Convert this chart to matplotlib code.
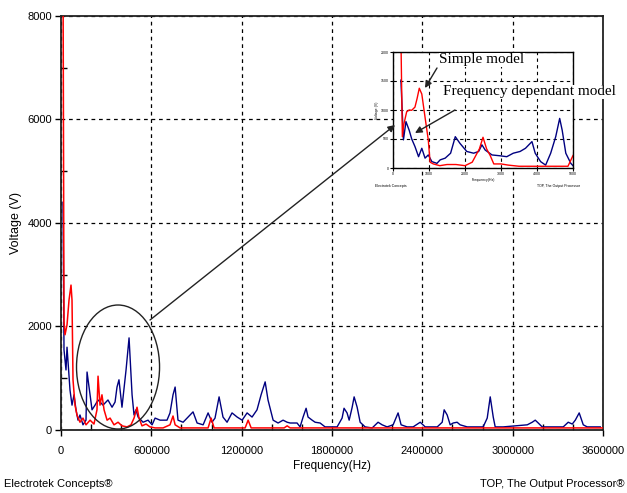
import matplotlib
matplotlib.use('Agg')
import matplotlib.pyplot as plt
from matplotlib.patches import Ellipse
from matplotlib.ticker import MultipleLocator, FixedLocator

plt.rcParams['font.family'] = ['Liberation Sans', 'DejaVu Sans']

# ==========================================
# DATA
# ==========================================
# frequency dependant model (blue), Hz / V
blue_f = [13300, 19900, 33200, 39900, 59800, 73100, 86400, 99700, 113000, 126000,
          146000, 166000, 173000, 193000, 206000, 226000, 246000, 279000, 312000, 339000,
          359000, 372000, 385000, 405000, 432000, 452000, 472000, 485000, 498000, 512000,
          545000, 578000, 605000, 625000, 658000, 704000, 724000, 744000, 758000, 777000,
          811000, 844000, 877000, 904000, 944000, 977000, 1003000, 1023000, 1050000, 1076000,
          1103000, 1136000, 1170000, 1203000, 1236000, 1269000, 1302000, 1329000, 1356000, 1375000,
          1409000, 1442000, 1475000, 1502000, 1522000, 1568000, 1588000, 1608000, 1628000, 1641000,
          1668000, 1688000, 1721000, 1754000, 1834000, 1867000, 1880000, 1900000, 1914000, 1934000,
          1947000, 1967000, 1987000, 2020000, 2067000, 2106000, 2133000, 2166000, 2206000, 2239000,
          2259000, 2299000, 2339000, 2386000, 2419000, 2499000, 2532000, 2545000, 2565000, 2585000,
          2605000, 2631000, 2651000, 2698000, 2804000, 2831000, 2851000, 2871000, 2884000, 2937000,
          3097000, 3130000, 3150000, 3170000, 3196000, 3336000, 3369000, 3396000, 3416000, 3442000,
          3469000, 3495000, 3582000]
blue_v = [4400, 1550, 1160, 1600, 770, 480, 680, 390, 190, 290,
          100, 190, 1120, 680, 390, 480, 580, 480, 580, 440,
          540, 830, 970, 440, 1160, 1780, 680, 290, 390, 250,
          150, 190, 100, 230, 190, 190, 330, 680, 830, 190,
          150, 250, 350, 135, 100, 330, 150, 230, 640, 250,
          150, 330, 250, 190, 330, 250, 390, 680, 930, 580,
          190, 135, 190, 150, 135, 135, 60, 250, 420, 250,
          190, 150, 135, 60, 60, 230, 420, 330, 190, 440,
          640, 440, 150, 60, 40, 150, 100, 60, 100, 330,
          100, 60, 60, 150, 60, 60, 150, 390, 290, 100,
          135, 150, 100, 60, 60, 230, 640, 250, 60, 60,
          100, 150, 190, 135, 60, 60, 150, 115, 190, 330,
          100, 60, 60]

# simple model (red), Hz / V
red_f = [13300, 19900, 26600, 39900, 53200, 66400, 73100, 79700, 93000, 106000,
         126000, 146000, 166000, 193000, 219000, 239000, 246000, 259000, 272000, 286000,
         306000, 326000, 352000, 379000, 405000, 439000, 465000, 485000, 505000, 518000,
         538000, 565000, 591000, 625000, 678000, 724000, 744000, 758000, 791000, 977000,
         997000, 1017000, 1223000, 1243000, 1263000, 1482000, 1502000, 1522000, 3600000]
red_v = [9000, 2100, 1840, 2030, 2510, 2800, 2510, 970, 480, 290,
         150, 230, 100, 190, 115, 390, 1040, 480, 680, 390,
         190, 230, 100, 150, 80, 60, 100, 230, 440, 230,
         80, 115, 60, 40, 40, 100, 270, 100, 40, 40,
         230, 40, 40, 190, 40, 40, 80, 40, 40]

x_ticks = [0, 600000, 1200000, 1800000, 2400000, 3000000, 3600000]
y_ticks = [0, 2000, 4000, 6000, 8000]

# inset (zoomed copy of the low-frequency part), arbitrary units
ins_red_x = [0.22, 0.26, 0.30, 0.38, 0.45, 0.52, 0.61, 0.67, 0.73, 0.80, 0.89, 0.98,
             1.03, 1.12, 1.30, 1.50, 1.75, 2.00, 2.20, 2.40, 2.50, 2.60, 2.70, 2.80,
             3.00, 3.20, 3.50, 3.80, 4.30, 4.70, 4.86, 5.00]
ins_red_y = [4.5, 1.08, 1.5, 1.94, 2.0, 1.99, 2.1, 2.4, 2.75, 2.55, 1.75, 0.97,
             0.2, 0.14, 0.08, 0.12, 0.12, 0.08, 0.2, 0.66, 1.06, 0.66, 0.43, 0.14,
             0.14, 0.1, 0.06, 0.06, 0.06, 0.06, 0.06, 0.43]
ins_blue_x = [0.22, 0.29, 0.36, 0.45, 0.52, 0.61, 0.71, 0.80, 0.89, 0.98, 1.08, 1.22,
              1.31, 1.45, 1.60, 1.73, 1.86, 2.05, 2.24, 2.38, 2.47, 2.56, 2.75, 2.98,
              3.16, 3.34, 3.53, 3.68, 3.86, 3.95, 4.10, 4.24, 4.38, 4.52, 4.63, 4.70,
              4.80, 4.94, 5.00]
ins_blue_y = [3.03, 0.97, 1.6, 1.3, 1.0, 0.74, 0.39, 0.68, 0.34, 0.45, 0.22, 0.16,
              0.28, 0.34, 0.51, 1.08, 0.85, 0.57, 0.51, 0.57, 0.8, 0.62, 0.45, 0.42,
              0.39, 0.51, 0.57, 0.68, 0.91, 0.51, 0.22, 0.1, 0.51, 1.08, 1.71, 1.3,
              0.51, 0.16, 0.08]
ins_x_labels = ['0', '1000', '2000', '3000', '4000', '5000']
ins_y_labels = ['0', '500', '1000', '1500', '2000']

# ==========================================
# MAIN PLOT
# ==========================================
fig = plt.figure(figsize=(6.27, 4.93), dpi=100)
ax = fig.add_axes([0.0973, 0.1278, 0.8644, 0.8398])

ax.plot(blue_f, blue_v, color='#000080', lw=1.0, zorder=3)
ax.plot(red_f, red_v, color='#ff0000', lw=1.1, zorder=4)

ax.set_xlim(0, 3600000)
ax.set_ylim(0, 8000)
ax.xaxis.set_major_locator(FixedLocator(x_ticks))
ax.yaxis.set_major_locator(FixedLocator(y_ticks))
ax.xaxis.set_minor_locator(MultipleLocator(200000))
ax.yaxis.set_minor_locator(MultipleLocator(1000))
ax.set_xticklabels([str(t) for t in x_ticks])
ax.set_yticklabels([str(t) for t in y_ticks])
ax.tick_params(which='major', direction='out', length=4.5, width=1, labelsize=8)
ax.tick_params(axis='x', which='major', pad=7)
ax.tick_params(axis='y', which='major', pad=2)
ax.tick_params(which='minor', direction='in', length=4, width=1)
ax.grid(True, which='major', color='black', linestyle=(0, (3, 3)), lw=0.9)
for s in ax.spines.values():
    s.set_linewidth(1.3)
    s.set_color('#222222')

ax.set_xlabel('Frequency(Hz)', fontsize=8.5, labelpad=3)
ax.set_ylabel('Voltage (V)', fontsize=9, labelpad=4)

# circle around the low-frequency region
ax.add_patch(Ellipse((378800, 1217), 551500, 2396, fill=False, ec='#222222', lw=1.0, zorder=5))

fig.text(4 / 627, 1 - 484 / 493, 'Electrotek Concepts®', fontsize=8, ha='left', va='center')
fig.text(625 / 627, 1 - 484 / 493, 'TOP, The Output Processor®', fontsize=8, ha='right', va='center')

# ==========================================
# INSET
# ==========================================
ins = fig.add_axes([393 / 627, 1 - 168 / 493, 180 / 627, 116 / 493])
ins.plot(ins_blue_x, ins_blue_y, color='#000080', lw=1.0)
ins.plot(ins_red_x, ins_red_y, color='#ff0000', lw=1.0)
ins.set_xlim(0, 5)
ins.set_ylim(0, 4)
ins.set_xticks(range(6))
ins.set_yticks(range(5))
ins.set_xticklabels(ins_x_labels)
ins.set_yticklabels(ins_y_labels)
ins.tick_params(direction='out', length=2, width=0.8, labelsize=2.5, pad=1)
ins.grid(True, color='black', linestyle=(0, (3, 3)), lw=0.8)
for s in ins.spines.values():
    s.set_linewidth(1.0)
ins.set_xlabel('Frequency(Hz)', fontsize=2.5, labelpad=1)
ins.set_ylabel('Voltage (V)', fontsize=2.5, labelpad=1)
fig.text(375 / 627, 1 - 186 / 493, 'Electrotek Concepts', fontsize=2.5, ha='left', va='center')
fig.text(580 / 627, 1 - 186 / 493, 'TOP, The Output Processor', fontsize=2.5, ha='right', va='center')

# annotations
serif = ['Liberation Serif', 'DejaVu Serif']
fig.text(482 / 627, 1 - 60 / 493, 'Simple model', family=serif, fontsize=11,
         ha='center', va='center', bbox=dict(fc='white', ec='none', pad=0.5), zorder=10)
fig.text(443 / 627, 1 - 92 / 493, 'Frequency dependant model', family=serif, fontsize=11,
         ha='left', va='center', bbox=dict(fc='white', ec='none', pad=0.5), zorder=10)

arrow = dict(arrowstyle='-|>', color='#222222', lw=1.0, mutation_scale=10, shrinkA=0, shrinkB=0)
ins.annotate('', xy=(425, 493 - 88), xycoords='figure pixels',
             xytext=(437, 493 - 68), textcoords='figure pixels', arrowprops=arrow)
ins.annotate('', xy=(415, 493 - 133), xycoords='figure pixels',
             xytext=(455, 493 - 110), textcoords='figure pixels', arrowprops=arrow)
ins.annotate('', xy=(395, 493 - 125), xycoords='figure pixels',
             xytext=(150, 493 - 320), textcoords='figure pixels', arrowprops=arrow)

plt.savefig('out.png', dpi=100)
plt.close()
